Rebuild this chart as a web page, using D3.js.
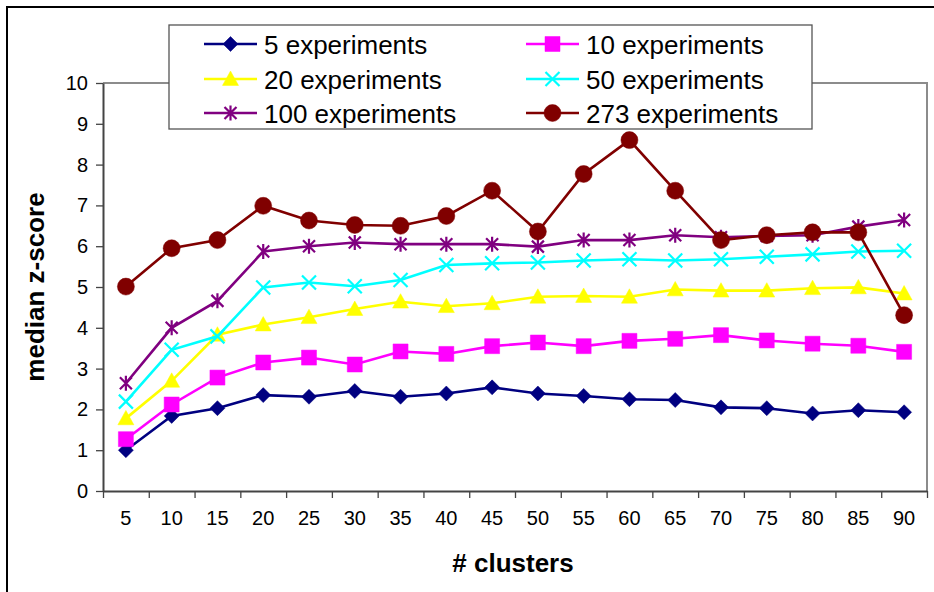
<!DOCTYPE html>
<html>
<head>
<meta charset="utf-8">
<script src="https://cdn.jsdelivr.net/npm/d3@7"></script>
<style>
  body { margin: 0; background: #fff; }
  svg { font-family: "Liberation Sans", Arial, sans-serif; }
</style>
</head>
<body>
<svg id="chart" width="934" height="592"></svg>
<script>
// chart data
var clusters = ["5", "10", "15", "20", "25", "30", "35", "40", "45", "50", "55", "60", "65", "70", "75", "80", "85", "90"];
var exp5   = [1.00, 1.84, 2.03, 2.35, 2.31, 2.45, 2.31, 2.39, 2.54, 2.39, 2.33, 2.25, 2.23, 2.05, 2.03, 1.90, 1.98, 1.93];
var exp10  = [1.27, 2.12, 2.78, 3.15, 3.27, 3.10, 3.42, 3.36, 3.55, 3.64, 3.55, 3.68, 3.73, 3.82, 3.69, 3.61, 3.56, 3.41];
var exp20  = [1.78, 2.70, 3.83, 4.08, 4.26, 4.46, 4.64, 4.53, 4.60, 4.76, 4.78, 4.76, 4.94, 4.91, 4.91, 4.97, 4.99, 4.84];
var exp50  = [2.19, 3.46, 3.79, 4.99, 5.11, 5.02, 5.17, 5.54, 5.58, 5.60, 5.65, 5.68, 5.65, 5.68, 5.74, 5.80, 5.87, 5.89];
var exp100 = [2.64, 4.00, 4.66, 5.87, 6.00, 6.09, 6.05, 6.05, 6.05, 5.99, 6.15, 6.15, 6.27, 6.22, 6.25, 6.27, 6.48, 6.64];
var exp273 = [5.01, 5.95, 6.15, 6.99, 6.63, 6.52, 6.50, 6.74, 7.36, 6.36, 7.77, 8.60, 7.36, 6.15, 6.27, 6.34, 6.34, 4.31];
var yTicks = [0, 1, 2, 3, 4, 5, 6, 7, 8, 9, 10];

var series = [
  { name: "5 experiments",   values: exp5,   color: "#000080", shape: "diamond" },
  { name: "10 experiments",  values: exp10,  color: "#FF00FF", shape: "square" },
  { name: "20 experiments",  values: exp20,  color: "#FFFF00", shape: "triangle" },
  { name: "50 experiments",  values: exp50,  color: "#00FFFF", shape: "x" },
  { name: "100 experiments", values: exp100, color: "#800080", shape: "star" },
  { name: "273 experiments", values: exp273, color: "#800000", shape: "circle" }
];

var svg = d3.select("#chart");
var margin = { left: 103, top: 83, right: 7, bottom: 101 };
var W = 934, H = 592;
var pw = W - margin.left - margin.right, ph = H - margin.top - margin.bottom;

// outer chart border
svg.append("rect")
   .attr("x", 7).attr("y", 7).attr("width", 940).attr("height", 600)
   .attr("fill", "none").attr("stroke", "#000").attr("stroke-width", 2);

var g = svg.append("g").attr("transform", `translate(${margin.left},${margin.top})`);

var x = d3.scaleBand().domain(clusters).range([0, pw]);
var xEdge = d3.scaleLinear().domain([0, clusters.length]).range([0, pw]);
var y = d3.scaleLinear().domain([0, 10]).range([ph, 0]);

// plot area frame (top + right in grey)
g.append("path")
   .attr("d", `M0,0H${pw}V${ph}`)
   .attr("fill", "none").attr("stroke", "#8c8c8c").attr("stroke-width", 2);

// y axis
var yAxis = g.append("g")
   .call(d3.axisLeft(y).tickValues(yTicks).tickSize(7).tickSizeOuter(0).tickPadding(8));
yAxis.select(".domain").attr("stroke", "#444").attr("stroke-width", 2);
yAxis.selectAll(".tick line").attr("stroke", "#444").attr("stroke-width", 1.3);
yAxis.selectAll("text").attr("font-size", 20).attr("fill", "#000")
   .attr("font-family", "Liberation Sans, Arial, sans-serif");

// x axis: labels at category centers, tick marks on the category edges
var xAxis = g.append("g").attr("transform", `translate(0,${ph})`)
   .call(d3.axisBottom(x).tickSize(0).tickPadding(20));
xAxis.select(".domain").remove();
xAxis.selectAll("text").attr("font-size", 20).attr("fill", "#000")
   .attr("font-family", "Liberation Sans, Arial, sans-serif");

var xEdgeAxis = g.append("g").attr("transform", `translate(0,${ph})`)
   .call(d3.axisBottom(xEdge).ticks(clusters.length).tickSize(7).tickSizeOuter(0).tickFormat(""));
xEdgeAxis.select(".domain").attr("stroke", "#444").attr("stroke-width", 2);
xEdgeAxis.selectAll(".tick line").attr("stroke", "#444").attr("stroke-width", 1.3);

// axis titles
svg.append("text")
   .attr("x", 513).attr("y", 572)
   .attr("text-anchor", "middle")
   .attr("font-size", 26).attr("font-weight", "bold")
   .text("# clusters");

svg.append("text")
   .attr("transform", "translate(44,287) rotate(-90)")
   .attr("text-anchor", "middle")
   .attr("font-size", 26).attr("font-weight", "bold")
   .text("median z-score");

// marker shapes
function markerPath(shape, s) {
   var h = s / 2;
   if (shape == "diamond") return `M0,${-h}L${h},0L0,${h}L${-h},0Z`;
   if (shape == "square") return `M${-h},${-h}H${h}V${h}H${-h}Z`;
   if (shape == "triangle") return `M0,${-h}L${h},${h * 0.8}L${-h},${h * 0.8}Z`;
   if (shape == "circle") return d3.symbol(d3.symbolCircle, Math.PI * h * h)();
   if (shape == "x") return `M${-h},${-h}L${h},${h}M${-h},${h}L${h},${-h}`;
   // star: X plus vertical bar
   var d = h * 0.8;
   return `M${-d},${-d}L${d},${d}M${-d},${d}L${d},${-d}M0,${-h}V${h}`;
}
var markerSize = { diamond: 15, square: 15, triangle: 16, circle: 17, x: 14, star: 15 };
var stroked = { x: true, star: true };

var line = d3.line()
   .x((d, i) => x(clusters[i]) + x.bandwidth() / 2)
   .y(d => y(d));

series.forEach((s) => {
   var sg = g.append("g");
   sg.append("path")
      .attr("d", line(s.values))
      .attr("fill", "none")
      .attr("stroke", s.color)
      .attr("stroke-width", 2.6);

   sg.selectAll("path.mk")
      .data(s.values)
      .join("path")
      .attr("class", "mk")
      .attr("transform", (d, i) => `translate(${x(clusters[i]) + x.bandwidth() / 2},${y(d)})`)
      .attr("d", markerPath(s.shape, markerSize[s.shape]))
      .attr("fill", stroked[s.shape] ? "none" : s.color)
      .attr("stroke", s.color)
      .attr("stroke-width", stroked[s.shape] ? 2.2 : 0.5);
});

// legend
var leg = svg.append("g");
leg.append("rect")
   .attr("x", 169).attr("y", 25).attr("width", 643).attr("height", 104)
   .attr("fill", "#fff").attr("stroke", "#555").attr("stroke-width", 1.3);

var colX = [204, 526];
var rowY = [44, 79, 113];
series.forEach((s, i) => {
   var cx = colX[i % 2], cy = rowY[Math.floor(i / 2)];
   leg.append("line")
      .attr("x1", cx).attr("x2", cx + 53).attr("y1", cy).attr("y2", cy)
      .attr("stroke", s.color).attr("stroke-width", 2.6);
   leg.append("path")
      .attr("transform", `translate(${cx + 26.5},${cy})`)
      .attr("d", markerPath(s.shape, markerSize[s.shape]))
      .attr("fill", stroked[s.shape] ? "none" : s.color)
      .attr("stroke", s.color)
      .attr("stroke-width", stroked[s.shape] ? 2.2 : 0.5);
   leg.append("text")
      .attr("x", cx + 60).attr("y", cy + 9.5)
      .attr("font-size", 26)
      .text(s.name);
});
</script>
</body>
</html>
